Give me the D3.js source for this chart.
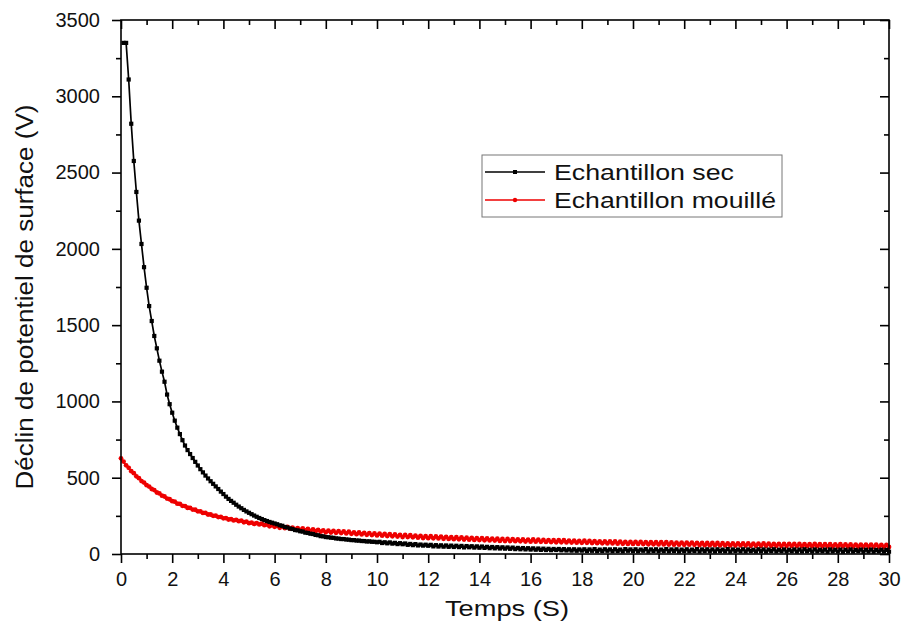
<!DOCTYPE html>
<html lang="fr">
<head>
<meta charset="UTF-8">
<title>Déclin de potentiel de surface</title>
<script src="https://d3js.org/d3.v7.min.js"></script>
<style>
  body { margin: 0; background: #fff; }
  svg { display: block; font-family: "Liberation Sans", Arial, sans-serif; }
  .frame { fill: none; stroke: #000; stroke-width: 1.6px; }
  .axis path { display: none; }
  .axis line { stroke: #000; stroke-width: 1.6px; }
  .axis text { font-size: 20px; fill: #111; font-family: "Liberation Sans", Arial, sans-serif; }
  .curve { fill: none; stroke-width: 1.7px; }
  .legend-box { fill: #fff; stroke: #777; stroke-width: 1px; }
  .legend text { font-size: 22px; fill: #111; }
</style>
</head>
<body>
<div id="chart"></div>
<script>
// tick values
const xTicks = [0, 2, 4, 6, 8, 10, 12, 14, 16, 18, 20, 22, 24, 26, 28, 30];
const xMinor = [1, 3, 5, 7, 9, 11, 13, 15, 17, 19, 21, 23, 25, 27, 29];
const yTicks = [0, 500, 1000, 1500, 2000, 2500, 3000, 3500];
const yMinor = [250, 750, 1250, 1750, 2250, 2750, 3250];

const seriesNames = ["Echantillon sec", "Echantillon mouillé"];

// sampling: one reading every 0.1 s
const sampleStep = 0.1;
const secStart = 0.1;
const mouStart = 0.0;

// Echantillon sec (V), t = 0.1 .. 30.0
const secValues = [
  3350, 3350, 3110, 2820, 2576, 2373, 2185, 2032, 1880, 1745,
  1625, 1527, 1429, 1348, 1267, 1195, 1129, 1045, 982, 926,
  874, 828, 786, 746, 711, 681, 655, 629, 604, 580,
  556, 535, 514, 495, 477, 460, 443, 426, 409, 393,
  376, 361, 348, 336, 323, 311, 300, 289, 279, 270,
  261, 252, 244, 236, 229, 222, 216, 210, 205, 200,
  195, 188, 185, 177, 174, 167, 164, 157, 155, 149,
  147, 140, 138, 133, 131, 125, 123, 117, 116, 111,
  110, 107, 106, 102, 101, 98, 98, 95, 94, 91,
  91, 88, 88, 85, 85, 82, 83, 80, 80, 77,
  80, 72, 77, 70, 76, 68, 73, 65, 71, 64,
  69, 60, 66, 58, 65, 56, 62, 55, 61, 54,
  60, 50, 58, 49, 57, 48, 56, 47, 55, 46,
  54, 45, 53, 43, 52, 44, 51, 42, 50, 41,
  49, 40, 47, 38, 46, 37, 45, 36, 44, 35,
  43, 34, 42, 32, 40, 31, 39, 30, 38, 29,
  37, 28, 36, 27, 35, 26, 34, 25, 33, 26,
  33, 24, 32, 23, 31, 22, 31, 21, 30, 22,
  31, 20, 30, 21, 32, 19, 29, 20, 31, 21,
  30, 19, 31, 20, 29, 18, 32, 21, 30, 19,
  31, 18, 29, 21, 32, 17, 30, 20, 31, 18,
  29, 19, 32, 18, 30, 20, 31, 17, 29, 19,
  31, 18, 29, 20, 32, 17, 30, 19, 31, 18,
  30, 17, 31, 19, 29, 18, 32, 16, 30, 19,
  29, 18, 31, 17, 30, 19, 28, 17, 31, 18,
  30, 16, 29, 19, 31, 17, 28, 18, 30, 16,
  28, 18, 30, 16, 29, 17, 31, 18, 28, 16,
  30, 17, 28, 18, 29, 15, 30, 17, 28, 16,
  29, 15, 28, 17, 30, 16, 27, 18, 29, 15,
  28, 16, 29, 15, 27, 17, 28, 16, 27, 15
];

// Echantillon mouillé (V), t = 0.0 .. 30.0
const mouValues = [
  627,
  606, 581, 565, 543, 530, 509, 497, 478, 468, 451,
  442, 426, 419, 403, 397, 382, 377, 363, 359, 346,
  343, 330, 328, 316, 314, 303, 302, 291, 290, 280,
  279, 269, 269, 259, 259, 250, 251, 242, 243, 234,
  235, 226, 228, 220, 224, 215, 219, 208, 212, 202,
  206, 197, 203, 194, 199, 189, 193, 182, 188, 178,
  184, 172, 181, 169, 177, 166, 173, 161, 170, 158,
  167, 155, 164, 152, 161, 149, 158, 146, 155, 142,
  153, 141, 152, 139, 150, 137, 148, 135, 146, 132,
  142, 130, 141, 128, 139, 126, 137, 124, 135, 122,
  134, 120, 131, 118, 130, 116, 128, 114, 126, 111,
  125, 111, 123, 109, 121, 107, 119, 105, 117, 104,
  117, 103, 115, 102, 114, 100, 112, 99, 110, 97,
  110, 96, 109, 95, 107, 94, 106, 92, 104, 91,
  104, 90, 103, 89, 101, 88, 100, 86, 99, 85,
  99, 85, 98, 84, 96, 83, 95, 82, 94, 81,
  95, 81, 94, 80, 92, 79, 91, 78, 90, 77,
  91, 77, 90, 76, 88, 75, 87, 74, 86, 73,
  87, 73, 86, 72, 84, 71, 83, 70, 82, 69,
  83, 69, 82, 68, 81, 67, 80, 66, 79, 66,
  80, 66, 79, 65, 78, 64, 77, 64, 77, 63,
  78, 63, 77, 62, 76, 61, 75, 61, 75, 60,
  75, 61, 74, 60, 73, 59, 72, 58, 72, 58,
  73, 58, 72, 57, 71, 56, 70, 56, 69, 55,
  70, 56, 69, 55, 69, 54, 68, 54, 68, 54,
  69, 54, 68, 53, 67, 53, 67, 52, 66, 52,
  67, 53, 66, 52, 66, 51, 65, 51, 65, 51,
  66, 51, 65, 50, 64, 50, 64, 49, 63, 49,
  64, 50, 63, 49, 63, 48, 62, 48, 62, 48,
  62, 48, 62, 47, 61, 47, 60, 46, 60, 46
];

const width = 902, height = 635;
const margin = {top: 20, right: 13, bottom: 81, left: 121};

const svg = d3.select("#chart").append("svg")
  .attr("width", width)
  .attr("height", height);

const x = d3.scaleLinear().domain([0, 30]).range([margin.left, width - margin.right]);
const y = d3.scaleLinear().domain([0, 3500]).range([height - margin.bottom, margin.top]);

const toPoints = (start, vals) => vals.map((v, i) => ({t: +(start + i * sampleStep).toFixed(2), v}));
const sec = toPoints(secStart, secValues);
const mou = toPoints(mouStart, mouValues);

// axes: major/minor, outward on bottom/left, inward on top/right
const bottomY = y(0), topY = y(3500), leftX = x(0), rightX = x(30);

svg.append("g").attr("class", "axis")
  .attr("transform", `translate(0,${bottomY})`)
  .call(d3.axisBottom(x).tickValues(xTicks).tickSize(9).tickSizeOuter(0).tickPadding(9).tickFormat(d3.format("d")));
svg.append("g").attr("class", "axis")
  .attr("transform", `translate(0,${bottomY})`)
  .call(d3.axisBottom(x).tickValues(xMinor).tickSize(5).tickSizeOuter(0).tickFormat(""));

svg.append("g").attr("class", "axis")
  .attr("transform", `translate(${leftX},0)`)
  .call(d3.axisLeft(y).tickValues(yTicks).tickSize(9).tickSizeOuter(0).tickPadding(12).tickFormat(d3.format("d")));
svg.append("g").attr("class", "axis")
  .attr("transform", `translate(${leftX},0)`)
  .call(d3.axisLeft(y).tickValues(yMinor).tickSize(5).tickSizeOuter(0).tickFormat(""));

svg.append("g").attr("class", "axis")
  .attr("transform", `translate(0,${topY})`)
  .call(d3.axisBottom(x).tickValues(xTicks).tickSize(9).tickSizeOuter(0).tickFormat(""));
svg.append("g").attr("class", "axis")
  .attr("transform", `translate(0,${topY})`)
  .call(d3.axisBottom(x).tickValues(xMinor).tickSize(5).tickSizeOuter(0).tickFormat(""));

svg.append("g").attr("class", "axis")
  .attr("transform", `translate(${rightX},0)`)
  .call(d3.axisLeft(y).tickValues(yTicks).tickSize(9).tickSizeOuter(0).tickFormat(""));
svg.append("g").attr("class", "axis")
  .attr("transform", `translate(${rightX},0)`)
  .call(d3.axisLeft(y).tickValues(yMinor).tickSize(5).tickSizeOuter(0).tickFormat(""));

// curves
const line = d3.line().x(d => x(d.t)).y(d => y(d.v));

svg.append("path").datum(mou)
  .attr("class", "curve")
  .attr("stroke", "#ee0000")
  .attr("d", line);
svg.append("g").selectAll("circle").data(mou).join("circle")
  .attr("cx", d => x(d.t))
  .attr("cy", d => y(d.v))
  .attr("r", 2.4)
  .attr("fill", "#ee0000");

svg.append("path").datum(sec)
  .attr("class", "curve")
  .attr("stroke", "#000")
  .attr("d", line);
svg.append("g").selectAll("rect").data(sec).join("rect")
  .attr("x", d => x(d.t) - 2.1)
  .attr("y", d => y(d.v) - 2.1)
  .attr("width", 4.2)
  .attr("height", 4.2)
  .attr("fill", "#000");

// frame
svg.append("rect").attr("class", "frame")
  .attr("x", leftX).attr("y", topY)
  .attr("width", rightX - leftX).attr("height", bottomY - topY);

// axis titles
svg.append("text")
  .attr("x", 507).attr("y", 616)
  .attr("text-anchor", "middle")
  .attr("font-size", 22)
  .attr("fill", "#111")
  .attr("textLength", 124).attr("lengthAdjust", "spacingAndGlyphs")
  .text("Temps (S)");

svg.append("text")
  .attr("transform", "translate(33,297) rotate(-90)")
  .attr("text-anchor", "middle")
  .attr("font-size", 23)
  .attr("fill", "#111")
  .attr("textLength", 385).attr("lengthAdjust", "spacingAndGlyphs")
  .text("Déclin de potentiel de surface (V)");

// legend
const legend = svg.append("g").attr("class", "legend");
legend.append("rect").attr("class", "legend-box")
  .attr("x", 482).attr("y", 155).attr("width", 300).attr("height", 62);

const legendRows = [
  {name: seriesNames[0], color: "#000", marker: "square", cy: 172, textLen: 180},
  {name: seriesNames[1], color: "#ee0000", marker: "circle", cy: 200, textLen: 222}
];
legendRows.forEach(r => {
  legend.append("line")
    .attr("x1", 485).attr("x2", 545)
    .attr("y1", r.cy).attr("y2", r.cy)
    .attr("stroke", r.color).attr("stroke-width", 1.6);
  if (r.marker === "square") {
    legend.append("rect").attr("x", 513).attr("y", r.cy - 2).attr("width", 4).attr("height", 4).attr("fill", r.color);
  } else {
    legend.append("circle").attr("cx", 515).attr("cy", r.cy).attr("r", 2.2).attr("fill", r.color);
  }
  legend.append("text")
    .attr("x", 554).attr("y", r.cy + 8)
    .attr("textLength", r.textLen).attr("lengthAdjust", "spacingAndGlyphs")
    .text(r.name);
});
</script>
</body>
</html>
